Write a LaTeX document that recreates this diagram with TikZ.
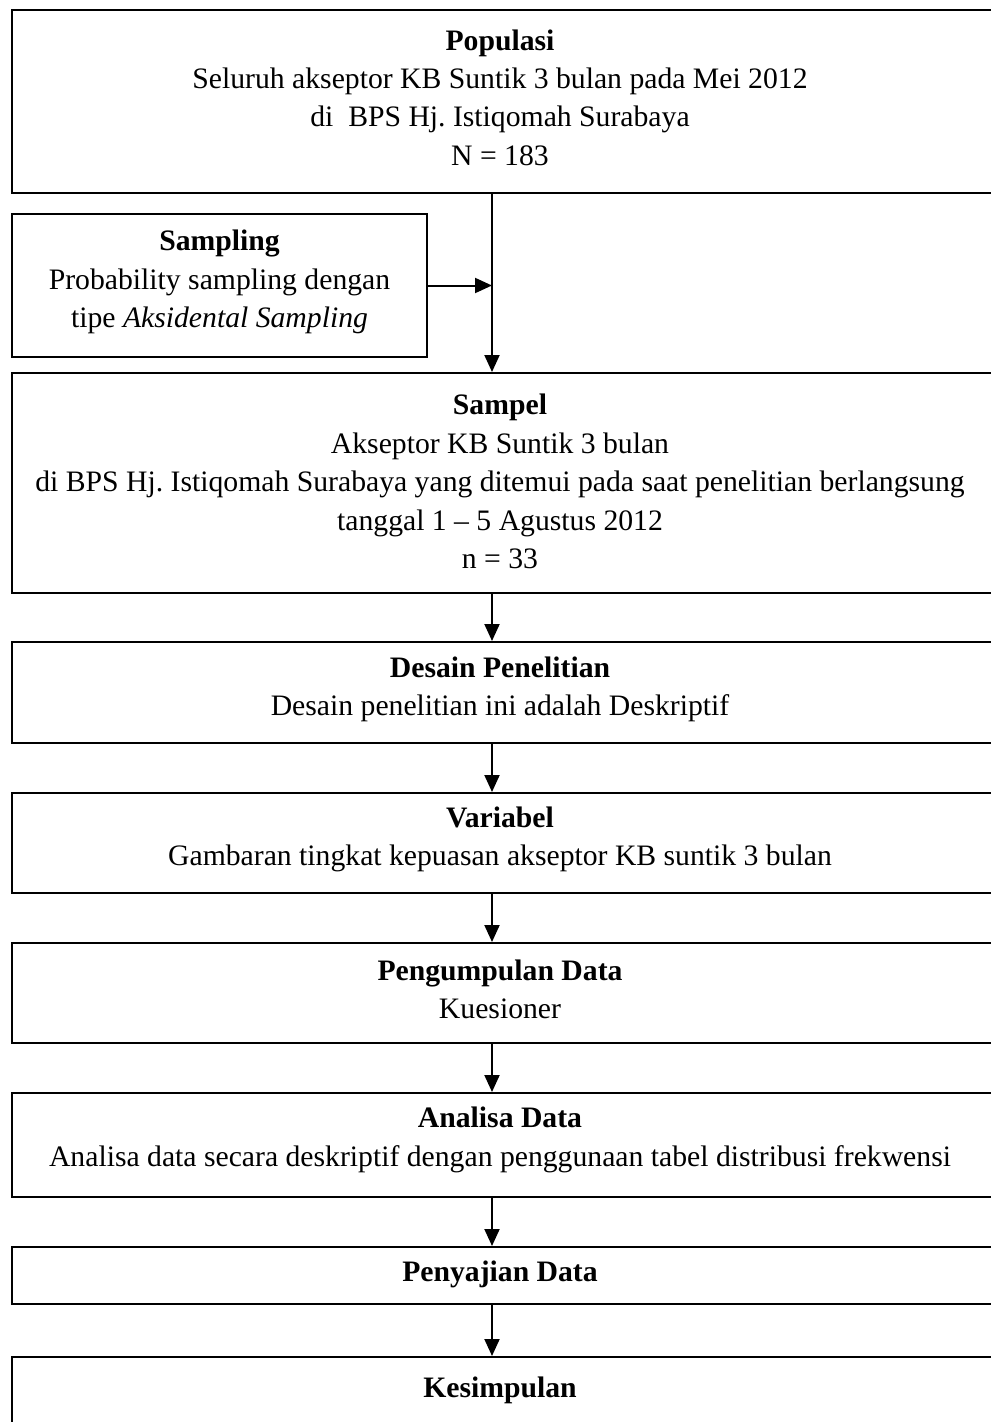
\documentclass[tikz,border=0pt]{standalone}
\usepackage{fontspec}
\setmainfont{Liberation Serif}
\usetikzlibrary{arrows.meta}
\begin{document}
\begin{tikzpicture}[x=1bp,y=-1bp,
  box/.style={draw=black, line width=2bp, inner sep=0pt},
  txt/.style={align=center, inner sep=0pt, font=\fontsize{29.8}{38.5}\selectfont},
  arr/.style={line width=2bp, -{Triangle[length=17bp,width=15bp]}}]
\useasboundingbox (0,0) rectangle (990,1422);
\coordinate (ax) at (492,0);
% boxes
\node[box, minimum width=988bp, minimum height=183bp] (pop) at (506,101.5) {};
\node[box, minimum width=415bp, minimum height=143bp] (smp) at (219.5,285.5) {};
\node[box, minimum width=988bp, minimum height=220bp] (sam) at (506,483) {};
\node[box, minimum width=988bp, minimum height=101bp] (des) at (506,692.5) {};
\node[box, minimum width=988bp, minimum height=100bp] (var) at (506,843) {};
\node[box, minimum width=988bp, minimum height=100bp] (pen) at (506,993) {};
\node[box, minimum width=988bp, minimum height=104bp] (ana) at (506,1145) {};
\node[box, minimum width=988bp, minimum height=57bp] (saj) at (506,1275.5) {};
\node[box, minimum width=988bp, minimum height=72bp] (kes) at (506,1393) {};
% texts
\node[txt] (popt) at (500,97.5) {\textbf{Populasi}\\Seluruh akseptor KB Suntik 3 bulan pada Mei 2012\\di~ BPS Hj.\ Istiqomah Surabaya\\N = 183};
\node[txt] (smpt) at (219.5,282) {\textbf{Sampling}\\Probability sampling dengan\\tipe \textit{Aksidental Sampling}};
\node[txt] (samt) at (500,481.5) {\textbf{Sampel}\\Akseptor KB Suntik 3 bulan\\di BPS Hj.\ Istiqomah Surabaya yang ditemui pada saat penelitian berlangsung\\tanggal 1 -- 5 Agustus 2012\\n = 33};
\node[txt] (dest) at (500,689.5) {\textbf{Desain Penelitian}\\Desain penelitian ini adalah Deskriptif};
\node[txt] (vart) at (500,839.5) {\textbf{Variabel}\\Gambaran tingkat kepuasan akseptor KB suntik 3 bulan};
\node[txt] (pent) at (500,989.5) {\textbf{Pengumpulan Data}\\Kuesioner};
\node[txt] (anat) at (500,1140) {\textbf{Analisa Data}\\Analisa data secara deskriptif dengan penggunaan tabel distribusi frekwensi};
\node[txt] (sajt) at (500,1274) {\textbf{Penyajian Data}};
\node[txt] (kest) at (500,1390) {\textbf{Kesimpulan}};
% connectors
\draw[arr] (pop.south -| ax) -- (sam.north -| ax);
\draw[arr] (smp.east) -- (smp.east -| ax);
\draw[arr] (sam.south -| ax) -- (des.north -| ax);
\draw[arr] (des.south -| ax) -- (var.north -| ax);
\draw[arr] (var.south -| ax) -- (pen.north -| ax);
\draw[arr] (pen.south -| ax) -- (ana.north -| ax);
\draw[arr] (ana.south -| ax) -- (saj.north -| ax);
\draw[arr] (saj.south -| ax) -- (kes.north -| ax);
\end{tikzpicture}
\end{document}
